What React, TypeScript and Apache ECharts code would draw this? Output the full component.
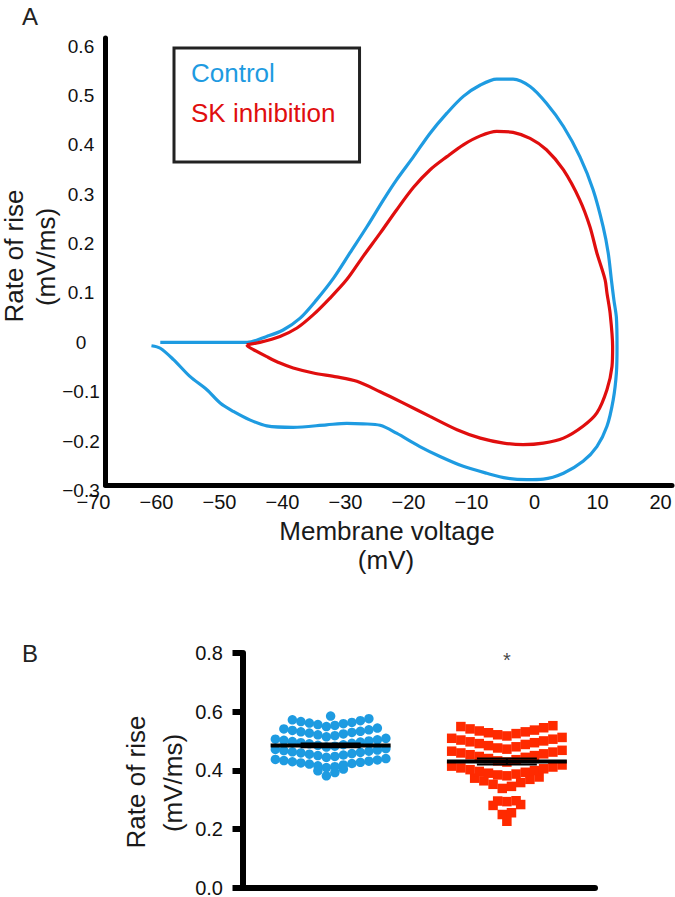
import React, { useEffect, useRef } from "react";
import * as echarts from "echarts";

// ---------- Panel A: phase plots (membrane voltage vs rate of rise) ----------
const controlVoltage = [
  -59.4, -45.6, -42.5, -39.9, -37.2, -34.6, -31.9, -29.3, -26.6, -24.0, -21.9, -19.2, -16.6, -13.9, -11.3, -8.6, -6.0,
  -3.4, -0.7, 1.9, 4.6, 7.2, 9.3, 10.9, 11.7, 12.2, 12.6, 13.0, 13.1, 13.0, 12.5, 11.5, 9.9, 7.7, 4.6, 1.4, -1.2, -4.4,
  -7.6, -11.3, -15.0, -18.2, -21.9, -24.5, -27.2, -29.8, -33.0, -38.3, -42.5, -45.2, -47.8, -49.9, -52.0, -54.7, -57.3,
  -59.4, -60.8,
];
const controlRate = [
  0, 0, 0.012, 0.025, 0.049, 0.086, 0.13, 0.181, 0.234, 0.288, 0.329, 0.376, 0.423, 0.464, 0.498, 0.521, 0.533, 0.533,
  0.518, 0.484, 0.437, 0.376, 0.309, 0.234, 0.181, 0.127, 0.086, 0.05, -0.01, -0.062, -0.116, -0.17, -0.211, -0.241,
  -0.265, -0.277, -0.278, -0.275, -0.265, -0.251, -0.231, -0.211, -0.184, -0.168, -0.165, -0.164, -0.167, -0.172,
  -0.169, -0.157, -0.14, -0.123, -0.096, -0.069, -0.035, -0.012, -0.007,
];
const skVoltage = [
  -45.7, -43.6, -40.4, -37.7, -35.1, -32.5, -29.8, -27.2, -24.5, -21.9, -19.2, -16.6, -13.9, -11.3, -8.6, -6.0, -3.4,
  -0.7, 1.9, 4.6, 7.2, 8.8, 9.9, 11.2, 11.5, 12.0, 12.4, 12.3, 11.5, 9.9, 7.7, 4.6, 1.4, -1.8, -4.9, -8.6, -12.3, -16.6,
  -20.8, -24.5, -28.2, -31.4, -35.1, -38.3, -40.4, -42.5, -44.6, -45.4, -45.7,
];
const skRate = [
  -0.005, 0, 0.012, 0.029, 0.056, 0.089, 0.127, 0.174, 0.221, 0.268, 0.314, 0.349, 0.376, 0.4, 0.418, 0.427, 0.425,
  0.413, 0.39, 0.349, 0.288, 0.234, 0.181, 0.127, 0.1, 0.059, -0.009, -0.049, -0.096, -0.143, -0.17, -0.194, -0.204,
  -0.207, -0.204, -0.194, -0.177, -0.15, -0.123, -0.1, -0.079, -0.07, -0.062, -0.052, -0.042, -0.029, -0.015, -0.009,
  -0.005,
];
const legendNames = ["Control", "SK inhibition"];

// ---------- Panel B: rate of rise per cell ----------
const groupNames = ["Control", "SK inhibition"];
const controlRise = [
  0.381, 0.392, 0.398, 0.404,
  0.409, 0.412, 0.415, 0.418, 0.421, 0.423, 0.425, 0.427, 0.429, 0.431, 0.433, 0.435, 0.437, 0.44,
  0.444, 0.447, 0.45, 0.452, 0.455, 0.457, 0.459, 0.461, 0.463, 0.465, 0.467, 0.469, 0.471, 0.474,
  0.479, 0.482, 0.485, 0.487, 0.49, 0.492, 0.494, 0.496, 0.498, 0.5, 0.502, 0.504, 0.506, 0.509,
  0.514, 0.518, 0.521, 0.524, 0.527, 0.529, 0.531, 0.533, 0.536, 0.538, 0.541, 0.544,
  0.549, 0.553, 0.556, 0.559, 0.561, 0.563, 0.566, 0.569, 0.572, 0.576,
  0.585,
];
const skRise = [
  0.226,
  0.249, 0.255, 0.28, 0.283,
  0.293, 0.295, 0.296,
  0.338, 0.345, 0.352, 0.358, 0.364, 0.369, 0.373, 0.377,
  0.381, 0.384, 0.387, 0.39, 0.393, 0.396, 0.399, 0.402, 0.405, 0.408, 0.411, 0.414, 0.418,
  0.428, 0.432, 0.436, 0.44, 0.444, 0.447, 0.45, 0.453, 0.456, 0.459, 0.462, 0.465, 0.468,
  0.472, 0.476, 0.48, 0.484, 0.488, 0.491, 0.494, 0.497, 0.5, 0.503, 0.506, 0.509, 0.512,
  0.517, 0.521, 0.525, 0.528, 0.531, 0.534, 0.537, 0.541, 0.545, 0.549, 0.552,
];
const significanceLabel = "*";
const significanceLevel = 0.775;

const BLUE = "#1E9BE1";
const RED = "#E00E0E";
const RED_SQ = "#FF2A00";
const FONT = "Liberation Sans, Arial, sans-serif";

function pairs(xs: number[], ys: number[]) {
  return xs.map((x, i) => [x, ys[i]]);
}

function minusFmt(v: number, dec: number) {
  const r = Math.round(v * Math.pow(10, dec)) / Math.pow(10, dec);
  const s = Math.abs(r).toString();
  return r < 0 ? "\u2212" + s : s;
}

// Prism-like scatter-dot layout: bin values, spread each bin horizontally (lowest in the middle)
function swarm(values: number[], center: number, base: number, binWidth: number, step: number) {
  const bins: Record<string, number[]> = {};
  values.forEach((v) => {
    const b = Math.floor((v - base) / binWidth + 1e-9);
    (bins[b] = bins[b] || []).push(v);
  });
  const pts: number[][] = [];
  let maxHalf = 0;
  Object.keys(bins).forEach((k) => {
    const sorted = bins[k].slice().sort((a, b) => a - b);
    const n = sorted.length;
    const offs = Array.from({ length: n }, (_, j) => j - (n - 1) / 2);
    offs.sort((a, b) => Math.abs(a) - Math.abs(b) || a - b);
    sorted.forEach((v, i) => pts.push([center + offs[i] * step, v]));
    maxHalf = Math.max(maxHalf, (n - 1) / 2);
  });
  return { pts, maxHalf };
}

function stats(values: number[]) {
  const n = values.length;
  const mean = values.reduce((a, b) => a + b, 0) / n;
  const sd = Math.sqrt(values.reduce((a, b) => a + (b - mean) * (b - mean), 0) / (n - 1));
  return { mean, sem: sd / Math.sqrt(n) };
}

export default function App() {
  const ref = useRef<HTMLDivElement>(null);

  useEffect(() => {
    if (!ref.current) return;
    document.body.style.margin = "0";
    const chart = echarts.init(ref.current, undefined, { renderer: "svg" });

    // bottom panel x scale: 352.5 px for 2 units
    const pxPerUnit = 352.5 / 2;
    const blueStep = 8.5 / pxPerUnit;
    const redStep = 9.2 / pxPerUnit;
    const blueSize = 9.5;
    const redSize = 9.5;
    const blue = swarm(controlRise, 1, 0.3725, 0.035, blueStep);
    const red = swarm(skRise, 2, 0.2, 0.045, redStep);
    const bs = stats(controlRise);
    const rs = stats(skRise);
    const blueHalf = blue.maxHalf * blueStep + blueSize / 2 / pxPerUnit;
    const redHalf = red.maxHalf * redStep + redSize / 2 / pxPerUnit;

    const meanSeries = (c: number, half: number, st: { mean: number; sem: number }, id: string) => {
      const q = half * 0.5;
      const common = {
        type: "line" as const,
        xAxisIndex: 2,
        yAxisIndex: 2,
        symbol: "none",
        silent: true,
        z: 5,
      };
      return [
        { ...common, name: id + " mean", data: [[c - half, st.mean], [c + half, st.mean]], lineStyle: { color: "#000", width: 4 } },
        { ...common, name: id + " sem+", data: [[c - q, st.mean + st.sem], [c + q, st.mean + st.sem]], lineStyle: { color: "#000", width: 2 } },
        { ...common, name: id + " sem-", data: [[c - q, st.mean - st.sem], [c + q, st.mean - st.sem]], lineStyle: { color: "#000", width: 2 } },
        { ...common, name: id + " semv", data: [[c, st.mean - st.sem], [c, st.mean + st.sem]], lineStyle: { color: "#000", width: 2 } },
      ];
    };

    const hiddenAxisBase = {
      axisTick: { show: false },
      splitLine: { show: false },
    };

    const titleStyle = { fontSize: 26, fill: "#1a1a1a", fontFamily: FONT, textAlign: "center", textVerticalAlign: "middle" };

    const option: any = {
      animation: false,
      backgroundColor: "#fff",
      textStyle: { fontFamily: FONT },
      legend: {
        data: [
          { name: legendNames[0], textStyle: { color: BLUE } },
          { name: legendNames[1], textStyle: { color: RED } },
        ],
        orient: "vertical",
        left: 174,
        top: 48,
        icon: "none",
        itemWidth: 0,
        itemHeight: 0,
        itemGap: 14,
        padding: [12, 24, 36, 12],
        borderColor: "#222",
        borderWidth: 3,
        selectedMode: false,
        textStyle: { fontSize: 26, fontFamily: FONT, lineHeight: 26 },
      },
      grid: [
        { left: 93.5, top: 46, width: 567, height: 444.5, containLabel: false, outerBoundsMode: "none" },
        { left: 105.5, top: 38, width: 566.5, height: 447, containLabel: false, outerBoundsMode: "none" },
        { left: 242.5, top: 653, width: 352.5, height: 234.5, containLabel: false, outerBoundsMode: "none" },
      ],
      xAxis: [
        {
          gridIndex: 0,
          type: "value",
          min: -70,
          max: 20,
          interval: 10,
          axisLine: { show: false, onZero: false },
          ...hiddenAxisBase,
          axisLabel: {
            fontSize: 20,
            color: "#111",
            margin: 1,
            fontFamily: FONT,
            formatter: (v: number) => minusFmt(v, 0),
          },
        },
        {
          gridIndex: 1,
          type: "value",
          min: 0,
          max: 1,
          axisLine: { show: true, onZero: false, lineStyle: { color: "#000", width: 5 } },
          ...hiddenAxisBase,
          axisLabel: { show: false },
        },
        {
          gridIndex: 2,
          type: "value",
          min: 0.5,
          max: 2.5,
          axisLine: { show: true, onZero: false, lineStyle: { color: "#000", width: 6 } },
          ...hiddenAxisBase,
          axisLabel: { show: false },
        },
      ],
      yAxis: [
        {
          gridIndex: 0,
          type: "value",
          min: -0.3,
          max: 0.6,
          interval: 0.1,
          axisLine: { show: false, onZero: false },
          ...hiddenAxisBase,
          axisLabel: {
            fontSize: 19,
            color: "#111",
            align: "center",
            margin: 12.5,
            fontFamily: FONT,
            formatter: (v: number) => minusFmt(v, 1),
          },
        },
        {
          gridIndex: 1,
          type: "value",
          min: 0,
          max: 1,
          axisLine: { show: true, onZero: false, lineStyle: { color: "#000", width: 5 } },
          ...hiddenAxisBase,
          axisLabel: { show: false },
        },
        {
          gridIndex: 2,
          type: "value",
          min: 0,
          max: 0.8,
          interval: 0.2,
          axisLine: { show: true, onZero: false, lineStyle: { color: "#000", width: 6 } },
          axisTick: { show: true, length: 10, lineStyle: { color: "#000", width: 6 } },
          splitLine: { show: false },
          axisLabel: {
            fontSize: 20,
            color: "#111",
            margin: 19.5,
            fontFamily: FONT,
            formatter: (v: number) => v.toFixed(1),
          },
        },
      ],
      series: [
        {
          name: legendNames[0],
          type: "line",
          xAxisIndex: 0,
          yAxisIndex: 0,
          data: pairs(controlVoltage, controlRate),
          showSymbol: false,
          symbol: "none",
          smooth: 0.3,
          lineStyle: { color: BLUE, width: 3.2 },
          itemStyle: { color: BLUE },
          clip: false,
        },
        {
          name: legendNames[1],
          type: "line",
          xAxisIndex: 0,
          yAxisIndex: 0,
          data: pairs(skVoltage, skRate),
          showSymbol: false,
          symbol: "none",
          smooth: 0.3,
          lineStyle: { color: RED, width: 3.2 },
          itemStyle: { color: RED },
          clip: false,
        },
        {
          name: groupNames[0] + " cells",
          type: "scatter",
          xAxisIndex: 2,
          yAxisIndex: 2,
          data: blue.pts,
          symbol: "circle",
          symbolSize: blueSize,
          itemStyle: { color: BLUE, opacity: 1 },
          z: 3,
        },
        {
          name: groupNames[1] + " cells",
          type: "scatter",
          xAxisIndex: 2,
          yAxisIndex: 2,
          data: red.pts,
          symbol: "rect",
          symbolSize: redSize,
          itemStyle: { color: RED_SQ, opacity: 1 },
          z: 3,
        },
        ...meanSeries(1, blueHalf, bs, "control"),
        ...meanSeries(2, redHalf, rs, "sk"),
        {
          name: "significance",
          type: "scatter",
          xAxisIndex: 2,
          yAxisIndex: 2,
          data: [[2, significanceLevel]],
          symbolSize: 0,
          silent: true,
          label: {
            show: true,
            position: "inside",
            formatter: significanceLabel,
            fontSize: 20,
            color: "#111",
            fontFamily: FONT,
          },
        },
      ],
      graphic: [
        { type: "text", left: 22, top: 4, style: { text: "A", fontSize: 24, fill: "#222", fontFamily: FONT } },
        { type: "text", left: 22, top: 641, style: { text: "B", fontSize: 24, fill: "#222", fontFamily: FONT } },
        { type: "text", x: 14, y: 256, rotation: Math.PI / 2, style: { ...titleStyle, text: "Rate of rise" } },
        { type: "text", x: 46, y: 257, rotation: Math.PI / 2, style: { ...titleStyle, text: "(mV/ms)" } },
        { type: "text", x: 387, y: 531, style: { ...titleStyle, text: "Membrane voltage" } },
        { type: "text", x: 386, y: 560, style: { ...titleStyle, text: "(mV)" } },
        { type: "text", x: 136, y: 782, rotation: Math.PI / 2, style: { ...titleStyle, text: "Rate of rise" } },
        { type: "text", x: 173, y: 783, rotation: Math.PI / 2, style: { ...titleStyle, text: "(mV/ms)" } },
      ],
    };

    chart.setOption(option);
    return () => chart.dispose();
  }, []);

  return <div ref={ref} style={{ position: "absolute", left: 0, top: 0, width: 675, height: 897 }} />;
}
